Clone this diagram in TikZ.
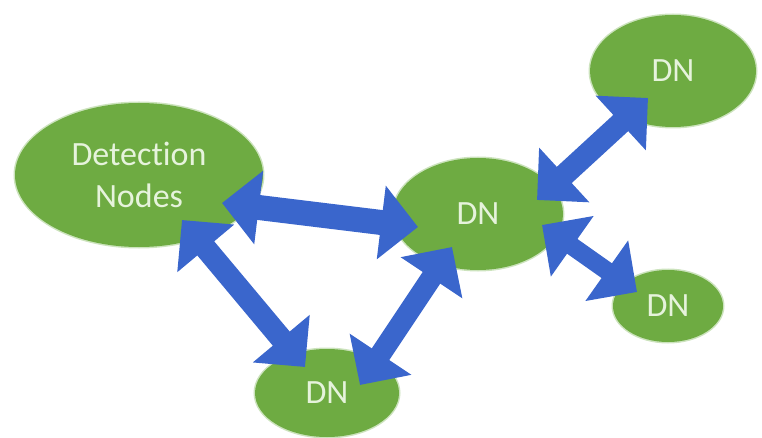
\documentclass[tikz,border=0pt]{standalone}
\usepackage{fontspec}
\setmainfont{Carlito}[Ligatures=NoCommon]
\usetikzlibrary{arrows.meta,shapes.geometric}

\definecolor{nodegreen}{RGB}{110,171,66}
\definecolor{nodehalo}{RGB}{170,208,145}
\definecolor{labelgreen}{RGB}{230,243,220}
\definecolor{linkblue}{RGB}{58,102,204}

\begin{document}
\begin{tikzpicture}[x=1pt,y=-1pt,
  netnode/.style={ellipse, fill=nodegreen, inner sep=0pt,
    preaction={draw=nodehalo, line width=3pt, opacity=0.6},
    text=labelgreen, align=center, font=\fontsize{34}{42}\selectfont},
  biarrow/.style={draw=linkblue, line width=#1,
    arrows={Triangle[length=37pt,width=72pt]-Triangle[length=37pt,width=72pt]}}]

  % canvas
  \useasboundingbox (0,0) rectangle (762,438);

  % network nodes
  \node[netnode, minimum width=248pt, minimum height=144pt] (det)  at (139,175) {Detection\\Nodes};
  \node[netnode, minimum width=170pt, minimum height=112pt] (cdn)  at (478,214) {DN};
  \node[netnode, minimum width=166pt, minimum height=112pt] (trdn) at (673,71)  {DN};
  \node[netnode, minimum width=110pt, minimum height=72pt]  (rdn)  at (668,306) {DN};
  \node[netnode, minimum width=144pt, minimum height=88pt]  (bdn)  at (327,393) {DN};

  % arrow tip points inside the ellipses
  \coordinate (det-e)  at ([shift={(83,28)}]det.center);
  \coordinate (det-s)  at ([shift={(43,45)}]det.center);
  \coordinate (cdn-w)  at ([shift={(-60,13)}]cdn.center);
  \coordinate (cdn-sw) at ([shift={(-26,33)}]cdn.center);
  \coordinate (cdn-ne) at ([shift={(59,-14)}]cdn.center);
  \coordinate (cdn-e)  at ([shift={(64,11)}]cdn.center);
  \coordinate (bdn-nw) at ([shift={(-22,-26)}]bdn.center);
  \coordinate (bdn-ne) at ([shift={(33,-8)}]bdn.center);
  \coordinate (trdn-sw) at ([shift={(-25,27)}]trdn.center);
  \coordinate (rdn-nw) at ([shift={(-31,-14)}]rdn.center);

  % two-way links
  \draw[biarrow=25pt] (det-e) -- (cdn-w);
  \draw[biarrow=22pt] (det-s) -- (bdn-nw);
  \draw[biarrow=21pt] (bdn-ne) -- (cdn-sw);
  \draw[biarrow=22pt] (cdn-ne) -- (trdn-sw);
  \draw[biarrow=18pt] (cdn-e) -- (rdn-nw);
\end{tikzpicture}
\end{document}
